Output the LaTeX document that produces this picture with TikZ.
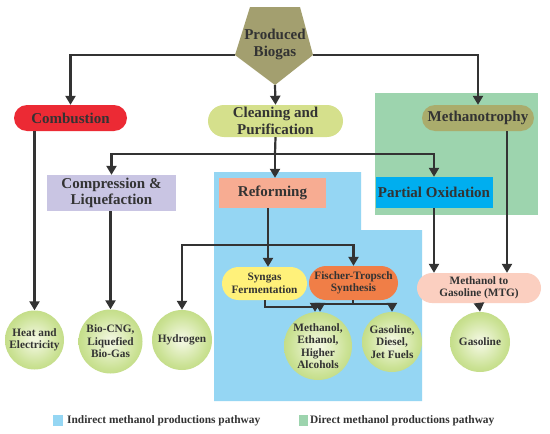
\documentclass[tikz,border=0pt]{standalone}
\usepackage{fontspec}
\setmainfont{Liberation Serif}
\usetikzlibrary{arrows.meta}
\definecolor{txt}{HTML}{333333}
\definecolor{lc}{HTML}{333333}
\definecolor{cPent}{HTML}{A39F6F}
\definecolor{cRed}{HTML}{EC2A34}
\definecolor{cClean}{HTML}{D5E08C}
\definecolor{cMeth}{HTML}{AAAC6C}
\definecolor{cGreenReg}{HTML}{9DD4AE}
\definecolor{cPO}{HTML}{00AEEF}
\definecolor{cComp}{HTML}{C9C5E3}
\definecolor{cBlueReg}{HTML}{95D6F3}
\definecolor{cRef}{HTML}{F7AC92}
\definecolor{cSyn}{HTML}{FFF17A}
\definecolor{cFT}{HTML}{F07E47}
\definecolor{cMTG}{HTML}{FBCFC0}
\definecolor{cInner}{HTML}{F0F6DC}
\definecolor{cMid}{HTML}{CBE295}
\definecolor{cOuter}{HTML}{A6C955}
\pgfdeclareradialshading{ballg}{\pgfpoint{0bp}{0bp}}{color(0bp)=(cInner); color(3bp)=(cInner); color(21bp)=(cMid); color(44bp)=(cOuter); color(50bp)=(cOuter)}
\begin{document}
\begin{tikzpicture}[x=1pt,y=-1pt,
  big/.style={font=\fontsize{15}{16.5}\selectfont\bfseries, text=txt, align=center, inner sep=0pt},
  small/.style={font=\fontsize{11.3}{12.5}\selectfont\bfseries, text=txt, align=center, inner sep=0pt},
  pillbox/.style={rounded corners=#1},
  ball/.style={circle, shade, shading=ballg, minimum size=#1, small},
  arr/.style={-{Triangle[length=9pt,width=10pt]}, line width=2.2pt, draw=lc},
  ln/.style={line width=2.2pt, draw=lc}]
\useasboundingbox (0,0) rectangle (550,434);
\fill[white] (0,0) rectangle (550,434);

% background regions
\fill[cGreenReg] (375,93) rectangle (538,215);
\fill[cBlueReg] (214,172) -- (361,172) -- (361,230) -- (422,230) -- (422,401) -- (214,401) -- cycle;

% pentagon
\fill[cPent] (250,7) -- (300,7) -- (313,55) -- (275,85) -- (235,55) -- cycle;
\coordinate (pl) at (235,55);
\coordinate (pr) at (313,55);
\coordinate (pb) at (275,85);
\node[big] (pg) at (275,44.5) {Produced\\Biogas};

% nodes
\node[big, pillbox=13pt, fill=cRed, minimum width=113pt, minimum height=26pt] (comb) at (70.5,118) {Combustion};
\node[big, pillbox=16pt, fill=cClean, minimum width=135pt, minimum height=32pt] (clean) at (275.5,121) {Cleaning and\\Purification};
\node[big, pillbox=13pt, fill=cMeth, minimum width=112pt, minimum height=26pt] (meth) at (478,118) {Methanotrophy};
\node[big, fill=cComp, minimum width=129pt, minimum height=36pt] (comp) at (111.5,193) {Compression \&\\Liquefaction};
\node[big, fill=cRef, minimum width=107pt, minimum height=30pt] (ref) at (272.5,193) {Reforming};
\node[big, fill=cPO, minimum width=117pt, minimum height=31pt] (po) at (434,192.5) {Partial Oxidation};
\node[small, pillbox=16.5pt, fill=cSyn, minimum width=85pt, minimum height=33pt] (syn) at (264.5,283.5) {Syngas\\Fermentation};
\node[small, pillbox=17pt, fill=cFT, minimum width=89pt, minimum height=34pt] (ft) at (353.5,283) {Fischer-Tropsch\\Synthesis};
\node[small, pillbox=15pt, fill=cMTG, minimum width=124pt, minimum height=30pt] (mtg) at (479,288) {Methanol to\\Gasoline (MTG)};

\node[ball=59pt] (heat) at (34.5,340) {Heat and\\Electricity};
\node[ball=64pt] (bcng) at (110.5,341.5) {Bio-CNG,\\Liquefied\\Bio-Gas};
\node[ball=60pt] (hyd) at (182,340) {Hydrogen};
\node[ball=68pt] (meoh) at (318,346) {Methanol,\\Ethanol,\\Higher\\Alcohols};
\node[ball=60pt] (gdj) at (392,342) {Gasoline,\\Diesel,\\Jet Fuels};
\node[ball=60pt] (gas) at (480,342) {Gasoline};

% connectors
\draw[arr] (pl) -| (comb.north);
\draw[arr] (pr) -| (meth.north);
\draw[arr] (pb) -- (clean.north);

\coordinate (j1) at (275,154);
\draw[ln] (clean.south) -- (j1);
\draw[arr] (j1) -| (comp.north);
\draw[arr] (j1) -| (po.north);
\draw[arr] (j1) -- (j1 |- ref.north);

\coordinate (j2) at (268,245);
\draw[ln] (j2 |- ref.south) -- (j2);
\draw[arr] (j2) -- (j2 |- syn.north);
\draw[arr] (j2) -| (hyd.north);
\draw[arr] (j2) -| (ft.north);

\coordinate (j3) at (265,307);
\path ([xshift=2pt]meoh.north) coordinate (m1);
\path ([xshift=-3pt]meoh.north) coordinate (m2);
\draw[arr] (j3 |- syn.south) -- (j3) -| (m1);
\coordinate (j4) at (353,304);
\draw[ln] (j4 |- ft.south) -- (j4);
\draw[arr] (j4) -| (m2);
\draw[arr] (j4) -| (gdj.north);

\draw[arr] (heat.north |- comb.south) -- (heat.north);
\draw[arr] (bcng.north |- comp.south) -- (bcng.north);

\draw[arr] (po.south) -- (po.south |- mtg.north);
\path ([xshift=29pt]meth.south) coordinate (m3);
\draw[arr] (m3) -- (m3 |- mtg.north);
\draw[arr] (mtg.south) -- (gas.north);

% legend
\node[fill=cBlueReg, minimum width=10pt, minimum height=11pt, inner sep=0pt] (lgb) at (58,420.5) {};
\node[small, anchor=west, font=\fontsize{11.4}{12.5}\selectfont\bfseries] (lgbt) at (67,421) {Indirect methanol productions pathway};
\node[fill=cGreenReg, minimum width=9pt, minimum height=11pt, inner sep=0pt] (lgg) at (303.5,420.5) {};
\node[small, anchor=west, font=\fontsize{11.4}{12.5}\selectfont\bfseries] (lggt) at (310,421) {Direct methanol productions pathway};
\end{tikzpicture}
\end{document}
